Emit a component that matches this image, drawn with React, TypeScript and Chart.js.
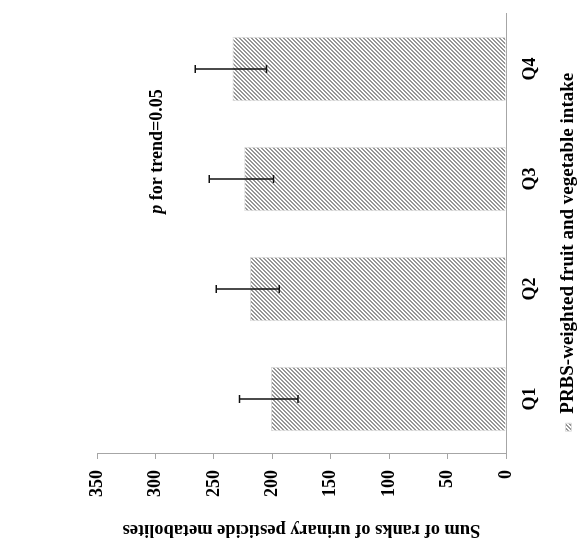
import React, { useEffect, useRef } from "react";
import { Chart, registerables } from "chart.js";

Chart.register(...registerables);

// Quartiles of PRBS-weighted fruit and vegetable intake
const categories = ["Q1", "Q2", "Q3", "Q4"];
// Sum of ranks of urinary pesticide metabolites (bar height)
const rankSums = [201, 219, 224, 234];
// Error bar limits
const errLow = [178, 194, 199, 205];
const errHigh = [228, 248, 254, 266];
// Value axis
const valueMin = 0;
const valueMax = 350;
const valueStep = 50;

const seriesLabel = "PRBS-weighted fruit and vegetable intake";
const axisTitle = "Sum of ranks of urinary pesticide metabolites";
const trendNote = { italic: "p", rest: " for trend=0.05", at: 2.25, value: 294 };

const FONT = "'Liberation Serif', 'Times New Roman', serif";
const AXIS_GREY = "#a6a6a6";
const LEGEND_SHIFT = 35;

function makeHatch(): CanvasPattern | string {
  const c = document.createElement("canvas");
  c.width = 4;
  c.height = 4;
  const g = c.getContext("2d");
  if (!g) return "#aaa";
  g.fillStyle = "#ffffff";
  g.fillRect(0, 0, 4, 4);
  g.fillStyle = "#969696";
  for (let y = 0; y < 4; y++) {
    for (let x = 0; x < 4; x++) {
      const k = (x + y) % 4;
      if (k === 0 || k === 1) g.fillRect(x, y, 1, 1);
    }
  }
  const p = g.createPattern(c, "repeat");
  return p || "#aaa";
}

const errorBars = {
  id: "errorBars",
  afterDatasetsDraw(chart: any) {
    const { ctx, scales } = chart;
    const xs = scales.x;
    const ys = scales.y;
    ctx.save();
    ctx.strokeStyle = "#111";
    ctx.lineWidth = 1.5;
    const cap = 4;
    categories.forEach((_, i) => {
      const x = xs.getPixelForValue(i);
      const y1 = ys.getPixelForValue(errLow[i]);
      const y2 = ys.getPixelForValue(errHigh[i]);
      ctx.beginPath();
      ctx.moveTo(x, y1);
      ctx.lineTo(x, y2);
      ctx.moveTo(x - cap, y1);
      ctx.lineTo(x + cap, y1);
      ctx.moveTo(x - cap, y2);
      ctx.lineTo(x + cap, y2);
      ctx.stroke();
    });
    ctx.restore();
  },
};

const trendLabel = {
  id: "trendLabel",
  afterDatasetsDraw(chart: any) {
    const { ctx, scales } = chart;
    const cx = scales.x.getPixelForValue(trendNote.at);
    const by = scales.y.getPixelForValue(trendNote.value);
    ctx.save();
    ctx.fillStyle = "#000";
    ctx.textBaseline = "alphabetic";
    const fItalic = `italic bold 18px ${FONT}`;
    const fBold = `bold 18px ${FONT}`;
    ctx.font = fItalic;
    const w1 = ctx.measureText(trendNote.italic).width;
    ctx.font = fBold;
    const w2 = ctx.measureText(trendNote.rest).width;
    let x = cx - (w1 + w2) / 2;
    ctx.textAlign = "left";
    ctx.font = fItalic;
    ctx.fillText(trendNote.italic, x, by);
    x += w1;
    ctx.font = fBold;
    ctx.fillText(trendNote.rest, x, by);
    ctx.restore();
  },
};

const legendOffset = {
  id: "legendOffset",
  afterLayout(chart: any) {
    const l = chart.legend;
    if (l) {
      l.left += LEGEND_SHIFT;
      l.right += LEGEND_SHIFT;
    }
  },
};

export default function App() {
  const ref = useRef<HTMLCanvasElement | null>(null);

  useEffect(() => {
    if (!ref.current) return;
    const hatch = makeHatch();
    const chart = new Chart(ref.current, {
      type: "bar",
      data: {
        labels: categories,
        datasets: [
          {
            label: seriesLabel,
            data: rankSums,
            backgroundColor: hatch as any,
            borderColor: "#dcdcdc",
            borderWidth: 1,
            categoryPercentage: 1,
            barPercentage: 0.585,
          },
        ],
      },
      options: {
        animation: false,
        responsive: false,
        maintainAspectRatio: false,
        layout: { padding: { top: 97, right: 14, bottom: 0, left: 0 } },
        font: { family: FONT, weight: "bold" } as any,
        plugins: {
          tooltip: { enabled: false },
          legend: {
            display: true,
            position: "bottom",
            labels: {
              color: "#000",
              boxWidth: 8,
              boxHeight: 6,
              padding: 8,
              font: { family: FONT, size: 19, weight: "bold" },
            },
          },
        },
        scales: {
          x: {
            type: "category",
            grid: { display: false, drawTicks: false },
            border: { display: true, color: AXIS_GREY, width: 1 },
            ticks: {
              color: "#000",
              padding: 14,
              font: { family: FONT, size: 18, weight: "bold" },
            },
            afterFit(scale: any) {
              scale.height = 45;
            },
          },
          y: {
            min: valueMin,
            max: valueMax,
            grid: {
              drawOnChartArea: false,
              drawTicks: true,
              tickLength: 5,
              color: AXIS_GREY,
            },
            border: { display: true, color: AXIS_GREY, width: 1 },
            ticks: {
              stepSize: valueStep,
              color: "#000",
              padding: 11,
              font: { family: FONT, size: 18, weight: "bold" },
            },
            title: {
              display: true,
              text: axisTitle,
              color: "#000",
              padding: { top: 19, bottom: 0 },
              font: { family: FONT, size: 18.4, weight: "bold" },
            },
            afterFit(scale: any) {
              scale.width = 106;
            },
          },
        },
      },
      plugins: [errorBars, trendLabel, legendOffset],
    });
    return () => chart.destroy();
  }, []);

  return (
    <div
      style={{
        position: "fixed",
        left: 0,
        top: 0,
        width: 588,
        height: 560,
        background: "#fff",
        overflow: "hidden",
      }}
    >
      <div
        style={{
          position: "absolute",
          left: 0,
          top: 0,
          width: 560,
          height: 588,
          transformOrigin: "0 0",
          transform: "translateY(560px) rotate(-90deg)",
        }}
      >
        <canvas ref={ref} width={560} height={588} style={{ display: "block" }} />
      </div>
    </div>
  );
}
